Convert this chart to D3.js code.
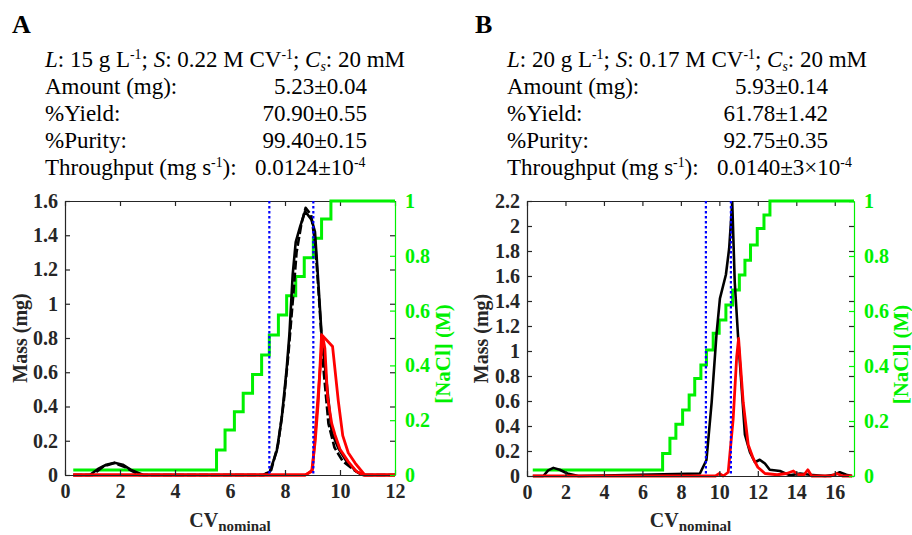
<!DOCTYPE html>
<html><head><meta charset="utf-8">
<script src="https://cdn.jsdelivr.net/npm/d3@7"></script>
<style>
body{margin:0;background:#fff}
svg{display:block}
text{font-family:"Liberation Serif","Times New Roman",serif}
</style>
</head><body>
<svg id="c" width="912" height="535"></svg>
<script>
// ---------------- DATA ----------------
const panelLetters = ["A", "B"];
const conditionsA = ["15", "0.22", "20"];   // L (g/L), S (M/CV), Cs (mM)
const conditionsB = ["20", "0.17", "20"];
const rowLabels = ["Amount (mg):", "%Yield:", "%Purity:", "Throughput (mg s"];
const valuesA = ["5.23±0.04", "70.90±0.55", "99.40±0.15"];
const valuesB = ["5.93±0.14", "61.78±1.42", "92.75±0.35"];
const throughputA = ["0.0124±10", "-4"];
const throughputB = ["0.0140±3×10", "-4"];

const xTicksA = [0, 2, 4, 6, 8, 10, 12];
const xTicksB = [0, 2, 4, 6, 8, 10, 12, 14, 16];
const massTicksA = [0, 0.2, 0.4, 0.6, 0.8, 1, 1.2, 1.4, 1.6];
const massTicksB = [0, 0.2, 0.4, 0.6, 0.8, 1, 1.2, 1.4, 1.6, 1.8, 2, 2.2];
const saltTicks = [0, 0.2, 0.4, 0.6, 0.8, 1];

// Panel A
const aBlack1X = [0.3, 0.9, 1.2, 1.5, 1.8, 2.1, 2.4, 2.85, 7.2, 7.45, 7.7, 7.88, 8.06, 8.16, 8.28, 8.39, 8.55, 8.73, 8.97, 9.09, 9.21, 9.33, 9.52, 9.7, 9.94, 10.24, 10.6, 10.85, 12];
const aBlack1Y = [0, 0, 0.035, 0.06, 0.072, 0.06, 0.03, 0, 0, 0.02, 0.14, 0.33, 0.62, 0.82, 1.17, 1.36, 1.45, 1.54, 1.49, 1.42, 1.13, 0.82, 0.53, 0.25, 0.156, 0.078, 0.02, 0, 0];
const aBlack2X = [0.3, 1.0, 1.4, 1.8, 2.2, 2.7, 7.25, 7.5, 7.75, 7.95, 8.12, 8.3, 8.42, 8.6, 8.75, 8.95, 9.1, 9.25, 9.4, 9.58, 9.8, 10.1, 10.5, 10.8, 12];
const aBlack2Y = [0, 0, 0.05, 0.07, 0.045, 0, 0, 0.03, 0.18, 0.42, 0.7, 1.05, 1.3, 1.47, 1.56, 1.52, 1.35, 1.0, 0.62, 0.3, 0.16, 0.08, 0.03, 0, 0];
const aRed1X = [0.3, 8.73, 8.97, 9.1, 9.21, 9.33, 9.73, 9.94, 10.1, 10.3, 10.55, 10.9, 12];
const aRed1Y = [0, 0, 0.02, 0.2, 0.43, 0.82, 0.75, 0.43, 0.23, 0.13, 0.07, 0, 0];
const aRed2X = [0.3, 8.75, 9.0, 9.15, 9.37, 9.45, 9.55, 9.7, 9.82, 10.0, 10.3, 10.6, 10.85, 12];
const aRed2Y = [0, 0, 0.03, 0.35, 0.81, 0.74, 0.45, 0.3, 0.234, 0.15, 0.078, 0.02, 0, 0];
const aSaltX = [0.3, 5.51, 5.82, 6.16, 6.48, 6.82, 7.15, 7.43, 7.76, 8.06, 8.39, 8.7, 9.03, 9.33, 9.67, 12];
const aSaltM = [0.018, 0.091, 0.164, 0.231, 0.298, 0.367, 0.438, 0.511, 0.584, 0.654, 0.724, 0.793, 0.864, 0.934, 1.0, 1.0];
const aCuts = [7.43, 9.03];

// Panel B
const bBlackX = [0.3, 0.85, 1.1, 1.37, 1.7, 2.1, 2.67, 8.99, 9.33, 9.6, 9.85, 10.03, 10.34, 10.51, 10.67, 10.8, 10.98, 11.33, 11.59, 11.85, 12.1, 12.37, 12.62, 13.15, 13.67, 14.2, 14.7, 15.5, 16.0, 16.26, 16.6, 16.9];
const bBlackY = [0, 0, 0.045, 0.065, 0.05, 0.02, 0, 0.02, 0.128, 0.59, 1.13, 1.42, 1.61, 1.82, 2.19, 1.55, 1.10, 0.33, 0.19, 0.11, 0.13, 0.1, 0.05, 0.04, 0.005, 0.02, 0.01, 0, 0.01, 0.03, 0.01, 0];
const bRedX = [0.3, 9.8, 10.0, 10.2, 10.46, 10.72, 10.9, 11.0, 11.24, 11.5, 11.76, 12.0, 12.37, 13.0, 13.5, 13.85, 14.1, 14.4, 14.6, 14.8, 15.8, 16.1, 16.4, 16.9];
const bRedY = [0, 0, 0.02, 0, 0.03, 0.46, 0.95, 1.10, 0.59, 0.25, 0.14, 0.07, 0.02, 0.01, 0.02, 0.04, 0.01, 0.01, 0.05, 0, 0, 0.02, 0, 0];
const bSaltX = [0.3, 7.05, 7.43, 7.74, 8.09, 8.43, 8.72, 9.04, 9.33, 9.68, 9.99, 10.34, 10.69, 11.04, 11.33, 11.62, 11.97, 12.32, 12.63, 17];
const bSaltM = [0.022, 0.082, 0.137, 0.188, 0.24, 0.295, 0.355, 0.404, 0.458, 0.519, 0.567, 0.622, 0.676, 0.731, 0.785, 0.84, 0.90, 0.949, 1.0, 1.0];
const bCuts = [9.3, 10.6];

// ---------------- DRAWING ----------------
const svg = d3.select("#c");
const AX = "#262626";
const GREEN = "#00f000";

function zip(xs, ys) { return xs.map((x, i) => [x, ys[i]]); }

function header(g, p) {
  g.append("text").attr("x", p.letterX).attr("y", 33)
    .attr("font-size", 26).attr("font-weight", "bold").text(p.letter);
  const fs = 23;
  const hx = p.hx;
  const t = g.append("text").attr("x", hx).attr("y", 67).attr("font-size", fs);
  const parts = [
    {t: "L", i: 1}, {t: ": " + p.cond[0] + " g L"}, {t: "-1", sup: 1}, {t: "; "},
    {t: "S", i: 1}, {t: ": " + p.cond[1] + " M CV"}, {t: "-1", sup: 1}, {t: "; "},
    {t: "C", i: 1}, {t: "s", i: 1, sub: 1}, {t: ": " + p.cond[2] + " mM"}
  ];
  let shift = 0;
  parts.forEach(q => {
    const sp = t.append("tspan").text(q.t);
    if (q.i) sp.attr("font-style", "italic");
    let target = 0;
    if (q.sup) { target = -8; sp.attr("font-size", fs * 0.6); }
    if (q.sub) { target = 4; sp.attr("font-size", fs * 0.6); }
    sp.attr("dy", target - shift);
    shift = target;
  });
  const base = [94, 121, 148, 175];
  rowLabels.forEach((lab, i) => {
    const tt = g.append("text").attr("x", hx).attr("y", base[i]).attr("font-size", fs);
    tt.append("tspan").text(lab);
    if (i === 3) {
      tt.append("tspan").text("-1").attr("font-size", fs * 0.6).attr("dy", -8);
      tt.append("tspan").text("):").attr("dy", 8);
    }
  });
  p.vals.forEach((v, i) => {
    g.append("text").attr("x", p.valRight).attr("y", base[i]).attr("font-size", fs)
      .attr("text-anchor", "end").text(v);
  });
  const tp = g.append("text").attr("x", p.thrX).attr("y", base[3]).attr("font-size", fs);
  tp.append("tspan").text(p.thr[0]);
  tp.append("tspan").text(p.thr[1]).attr("font-size", fs * 0.6).attr("dy", -8);
}

function panel(p) {
  const g = svg.append("g");
  header(g, p);
  const x = d3.scaleLinear().domain([0, p.xMax]).range([p.left, p.right]);
  const y = d3.scaleLinear().domain([0, p.yMax]).range([p.bottom, p.top]);
  const m = d3.scaleLinear().domain([0, 1]).range([p.bottom, p.top]);
  const tfs = 20;

  g.append("g").attr("transform", `translate(0,${p.top})`)
    .call(d3.axisTop(x).tickValues(p.xTicks).tickSize(-5).tickSizeOuter(0).tickFormat(""))
    .call(a => a.selectAll("path,line").attr("stroke", AX).attr("stroke-width", 1.2));
  g.append("g").attr("transform", `translate(${p.right},0)`)
    .call(d3.axisRight(y).tickValues(p.yTicks).tickSize(-5).tickSizeOuter(0).tickFormat(""))
    .call(a => { a.select("path").remove(); a.selectAll("line").attr("stroke", AX).attr("stroke-width", 1.2); });

  const line = d3.line().x(d => x(d[0])).y(d => y(d[1]));
  const sline = d3.line().x(d => x(d[0])).y(d => m(d[1])).curve(d3.curveStepAfter);
  const plot = g.append("g");
  plot.append("path").attr("d", sline(zip(p.saltX, p.saltM)))
    .attr("fill", "none").attr("stroke", GREEN).attr("stroke-width", 3);
  p.black.forEach(s => {
    plot.append("path").attr("d", line(zip(s.x, s.y))).attr("fill", "none")
      .attr("stroke", "#000").attr("stroke-width", 2.6)
      .attr("stroke-dasharray", s.dash ? "9,3" : null).attr("stroke-linejoin", "round");
  });
  p.red.forEach(s => {
    plot.append("path").attr("d", line(zip(s.x, s.y))).attr("fill", "none")
      .attr("stroke", "#ff0000").attr("stroke-width", 2.8).attr("stroke-linejoin", "round");
  });
  p.cuts.forEach(c => {
    plot.append("line").attr("x1", x(c)).attr("x2", x(c)).attr("y1", p.top).attr("y2", p.bottom)
      .attr("stroke", "#0000ff").attr("stroke-width", 2.2).attr("stroke-dasharray", "2.5,2.5");
  });

  g.append("g").attr("transform", `translate(0,${p.bottom})`)
    .call(d3.axisBottom(x).tickValues(p.xTicks).tickSize(-5).tickSizeOuter(0).tickPadding(9).tickFormat(d3.format("d")))
    .call(a => {
      a.selectAll("path,line").attr("stroke", AX).attr("stroke-width", 1.2);
      a.selectAll("text").attr("fill", AX).attr("font-size", tfs).attr("font-weight", "bold")
        .attr("font-family", '"Liberation Serif",serif');
    });
  g.append("g").attr("transform", `translate(${p.left},0)`)
    .call(d3.axisLeft(y).tickValues(p.yTicks).tickSize(-5).tickSizeOuter(0).tickPadding(7).tickFormat(d => d3.format("~g")(d)))
    .call(a => {
      a.selectAll("path,line").attr("stroke", AX).attr("stroke-width", 1.2);
      a.selectAll("text").attr("fill", AX).attr("font-size", tfs).attr("font-weight", "bold")
        .attr("font-family", '"Liberation Serif",serif');
    });
  g.append("g").attr("transform", `translate(${p.right},0)`)
    .call(d3.axisRight(m).tickValues(saltTicks).tickSize(-5).tickSizeOuter(0).tickPadding(10).tickFormat(d => d3.format("~g")(d)))
    .call(a => {
      a.selectAll("path,line").attr("stroke", GREEN).attr("stroke-width", 1.2);
      a.selectAll("text").attr("fill", GREEN).attr("font-size", tfs).attr("font-weight", "bold")
        .attr("font-family", '"Liberation Serif",serif');
    });

  const cx = (p.left + p.right) / 2, cy = (p.top + p.bottom) / 2;
  const xl = g.append("text").attr("x", cx).attr("y", 527).attr("text-anchor", "middle")
    .attr("font-weight", "bold").attr("fill", AX);
  xl.append("tspan").text("CV").attr("font-size", 20);
  xl.append("tspan").text("nominal").attr("font-size", 15).attr("dy", 4);
  g.append("text").attr("transform", `translate(${p.massLabelX},${cy}) rotate(-90)`)
    .attr("text-anchor", "middle").attr("font-size", 20).attr("font-weight", "bold").attr("fill", AX)
    .text("Mass (mg)");
  g.append("text").attr("transform", `translate(${p.saltLabelX},${cy + 16}) rotate(-90)`)
    .attr("text-anchor", "middle").attr("font-size", 21).attr("font-weight", "bold").attr("fill", GREEN)
    .text("[NaCl] (M)");
}

panel({
  letter: panelLetters[0], letterX: 12, hx: 45, valRight: 367, thrX: 255,
  cond: conditionsA, vals: valuesA, thr: throughputA,
  left: 65, right: 395, top: 201, bottom: 475, xMax: 12, yMax: 1.6,
  xTicks: xTicksA, yTicks: massTicksA,
  black: [{x: aBlack1X, y: aBlack1Y}, {x: aBlack2X, y: aBlack2Y, dash: true}],
  red: [{x: aRed1X, y: aRed1Y}, {x: aRed2X, y: aRed2Y}],
  saltX: aSaltX, saltM: aSaltM, cuts: aCuts,
  massLabelX: 27, saltLabelX: 450
});
panel({
  letter: panelLetters[1], letterX: 475, hx: 507, valRight: 828, thrX: 717,
  cond: conditionsB, vals: valuesB, thr: throughputB,
  left: 527, right: 854, top: 201, bottom: 476, xMax: 17, yMax: 2.2,
  xTicks: xTicksB, yTicks: massTicksB,
  black: [{x: bBlackX, y: bBlackY}],
  red: [{x: bRedX, y: bRedY}],
  saltX: bSaltX, saltM: bSaltM, cuts: bCuts,
  massLabelX: 488, saltLabelX: 908
});
</script>
</body></html>
